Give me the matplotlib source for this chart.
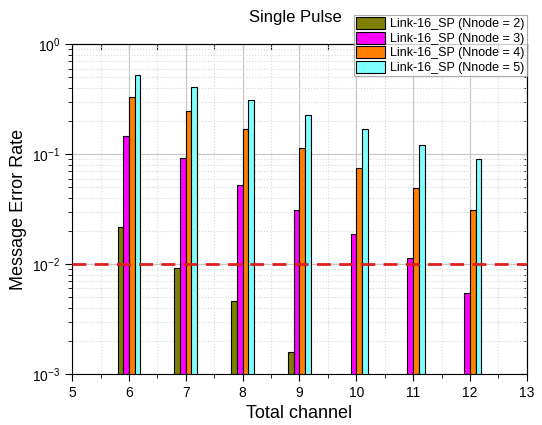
import matplotlib as mpl
mpl.use("Agg")
import matplotlib.pyplot as plt
import numpy as np
from matplotlib.ticker import LogLocator, MultipleLocator, NullFormatter

plt.rcParams['font.family'] = ['Liberation Sans', 'DejaVu Sans']

# data
channels = [6, 7, 8, 9, 10, 11, 12]
mer_n2 = [0.0218, 0.0092, 0.0046, 0.0016, np.nan, np.nan, np.nan]
mer_n3 = [0.146, 0.093, 0.052, 0.031, 0.0189, 0.0113, 0.0054]
mer_n4 = [0.33, 0.245, 0.17, 0.113, 0.075, 0.049, 0.031]
mer_n5 = [0.52, 0.41, 0.31, 0.225, 0.17, 0.12, 0.09]
labels = ['Link-16_SP (Nnode = 2)', 'Link-16_SP (Nnode = 3)',
          'Link-16_SP (Nnode = 4)', 'Link-16_SP (Nnode = 5)']
colors = ['#808000', '#ff00ff', '#ff8000', '#80ffff']
threshold = 1e-2
ymin = 1e-3

fig = plt.figure(figsize=(5.42, 4.25), dpi=100)
ax = fig.add_axes([0.133, 0.12, 0.839, 0.776])

series = [mer_n2, mer_n3, mer_n4, mer_n5]
width = 0.1
offsets = [-0.15, -0.05, 0.05, 0.15]
x = np.array(channels, dtype=float)
for vals, off, c, lab in zip(series, offsets, colors, labels):
    v = np.array(vals, dtype=float)
    m = ~np.isnan(v)
    ax.bar(x[m] + off, v[m] - ymin, width=width, bottom=ymin, color=c,
           edgecolor='black', linewidth=0.8, label=lab, zorder=3)

ax.axhline(threshold, color='#e02020', linestyle=(0, (5, 3)), linewidth=2, zorder=4)

ax.set_yscale('log')
ax.set_ylim(ymin, 1)
ax.set_xlim(5, 13)
ax.xaxis.set_major_locator(MultipleLocator(1))
ax.xaxis.set_minor_locator(MultipleLocator(0.5))
ax.yaxis.set_major_locator(LogLocator(base=10, numticks=100))
ax.yaxis.set_minor_locator(LogLocator(base=10, subs=np.arange(2, 10), numticks=100))
ax.yaxis.set_minor_formatter(NullFormatter())

ax.grid(True, which='major', color='#c8c8c8', linewidth=0.9, zorder=0)
ax.grid(True, which='minor', color='#d8d8d8', linestyle=':', linewidth=0.8, zorder=0)
ax.set_axisbelow(True)

ax.tick_params(which='both', direction='out', labelsize=10, top=False, right=False)
ax.tick_params(which='major', length=5)
ax.tick_params(which='minor', length=3)
sec_x = ax.secondary_xaxis('top')
sec_x.set_xticks(np.arange(5, 13.5, 0.5))
sec_x.tick_params(direction='in', length=4, labeltop=False)
sec_y = ax.secondary_yaxis('right')
sec_y.yaxis.set_minor_locator(LogLocator(base=10, subs=np.arange(2, 10), numticks=100))
sec_y.tick_params(which='both', direction='in', labelright=False)

ax.set_xlabel('Total channel', fontsize=13)
ax.set_ylabel('Message Error Rate', fontsize=13)
ax.set_title('Single Pulse', fontsize=12, pad=16, x=0.49)

leg = ax.legend(loc='upper right', bbox_to_anchor=(1.0, 1.09), fontsize=9,
                frameon=True, fancybox=False, edgecolor='#999999',
                handlelength=2.3, handleheight=1.1, labelspacing=0.1,
                borderpad=0.2, handletextpad=0.4, borderaxespad=0)
leg.get_frame().set_linewidth(0.8)
leg.set_zorder(10)

fig.savefig('out.png', dpi=100)
plt.close(fig)
